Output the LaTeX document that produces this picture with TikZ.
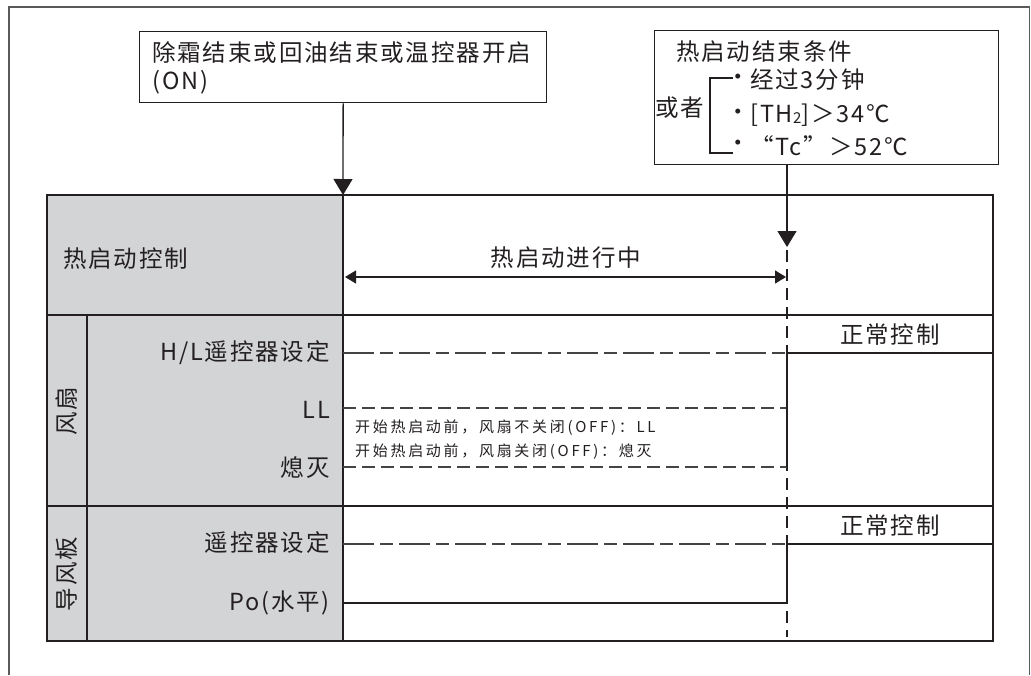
\documentclass[tikz,border=0pt]{standalone}
\usepackage{fontspec}
\setmainfont{Noto Sans CJK SC}
\usetikzlibrary{arrows.meta}
\definecolor{ink}{HTML}{231F20}
\definecolor{cellgray}{HTML}{D3D4D6}
\definecolor{framegray}{HTML}{5A5A5A}
\definecolor{dashgray}{HTML}{444444}
\tikzset{
  lbl/.style={inner sep=0pt, text=ink, font=\fontsize{23.5}{26}\selectfont\addfontfeatures{LetterSpace=8}},
  note/.style={inner sep=0pt, text=ink, font=\fontsize{15}{17}\selectfont\addfontfeatures{LetterSpace=18}},
  boxline/.style={draw=ink, line width=1.3pt},
  grid/.style={draw=ink, line width=2pt},
  longshort/.style={draw=dashgray, line width=1.5pt, dash pattern=on 31pt off 6pt on 13pt off 6pt},
  shortdash/.style={draw=dashgray, line width=1.5pt, dash pattern=on 13pt off 6pt},
  vdash/.style={draw=ink, line width=1.3pt, dash pattern=on 12pt off 7pt},
  bigarrow/.style={draw=ink, line width=1.3pt, -{Triangle[length=16pt,width=19pt]}},
  smallarrow/.style={draw=ink, line width=1.3pt, {Triangle[length=11pt,width=13pt]}-{Triangle[length=11pt,width=13pt]}},
}
\begin{document}
\begin{tikzpicture}[x=1pt,y=-1pt]
\useasboundingbox (0,0) rectangle (1031,675);
% outer frame (open at the bottom)
\draw[framegray, line width=1.2pt] (9,675) -- (9,7) -- (1029.5,7) -- (1029.5,675);

% top boxes
\node[boxline, anchor=north west, minimum width=407pt, minimum height=71pt, inner sep=0pt] (b1) at (139,31) {};
\node[lbl, anchor=west] (b1t) at (152,53) {除霜结束或回油结束或温控器开启};
\node[lbl, anchor=west] (b1on) at (152,82) {(ON)};

\node[boxline, anchor=north west, minimum width=344pt, minimum height=134pt, inner sep=0pt] (b2) at (654,30) {};
\node[lbl, anchor=west] (b2t) at (676,52) {热启动结束条件};
\node[lbl, anchor=west] (b2or) at (655,108) {或者};
\draw[ink, line width=1.2pt] (733,78) -- (710,78) -- (710,153) -- (733,153);
\node[lbl, anchor=center] (bu1) at (738,80) {•};
\node[lbl, anchor=center] (bu2) at (738,115) {•};
\node[lbl, anchor=center] (bu3) at (738,146) {•};
\node[lbl, anchor=west] (c1) at (750,80) {经过3分钟};
\node[lbl, anchor=west] (c2) at (750,115) {[TH\raisebox{-0.1ex}{\fontsize{15}{15}\selectfont 2}]＞34℃};
\node[lbl, anchor=west] (c3) at (750,146) {“Tc”＞52℃};

% table
\fill[cellgray] (47,195) rectangle (343,641);
\coordinate (tl) at (47,195);
\coordinate (br) at (993,641);
\coordinate (in1) at (343,195);
\coordinate (b2s) at (787,164);
\coordinate (end1) at (787,247);

% dashed end-of-hot-start vertical
\draw[vdash] (787,250) -- (787,637);

% row dividers
\draw[grid] (343,195) -- (343,641);
\draw[grid] (47,315) -- (993,315);
\draw[grid] (47,506) -- (993,506);
\draw[grid] (87,315) -- (87,641);

% fan lines
\draw[longshort] (343,353) -- (787,353);
\draw[shortdash] (343,408) -- (787,408);
\draw[shortdash] (343,467) -- (787,467);
\draw[grid] (787,353) -- (993,353);
\draw[ink, line width=1.5pt] (787,353) -- (787,467);

% flap lines
\draw[longshort] (343,544) -- (787,544);
\draw[grid] (787,544) -- (993,544);
\draw[ink, line width=2pt] (343,603) -- (787,603);
\draw[ink, line width=1.5pt] (787,544) -- (787,603);

% table border
\draw[ink, line width=2.6pt] (tl) rectangle (br);

% connectors
\draw[bigarrow] (b1.south) -- (in1);
\draw[bigarrow] (b2s) -- (end1);
\coordinate (ha) at (345,277);
\coordinate (hb) at (786,277);
\draw[smallarrow] (ha) -- (hb);

% labels
\node[lbl, anchor=west] (r1) at (63,259) {热启动控制};
\node[lbl, anchor=center] (r1m) at (566,258) {热启动进行中};
\node[lbl, anchor=east] (f1) at (330,353) {H/L遥控器设定};
\node[lbl, anchor=east] (f2) at (330,410) {LL};
\node[lbl, anchor=east] (f3) at (330,468) {熄灭};
\node[lbl, anchor=east] (l1) at (330,543) {遥控器设定};
\node[lbl, anchor=east] (l2) at (330,603) {Po(水平)};
\node[lbl, rotate=90] (fan) at (67,411) {风扇};
\node[lbl, rotate=90] (flap) at (67,574) {导风板};
\node[lbl] (n1) at (890,335) {正常控制};
\node[lbl] (n2) at (890,526) {正常控制};
\node[note, anchor=west] (m1) at (355,428) {开始热启动前，风扇不关闭(OFF)：LL};
\node[note, anchor=west] (m2) at (355,452) {开始热启动前，风扇关闭(OFF)：熄灭};
\end{tikzpicture}
\end{document}
